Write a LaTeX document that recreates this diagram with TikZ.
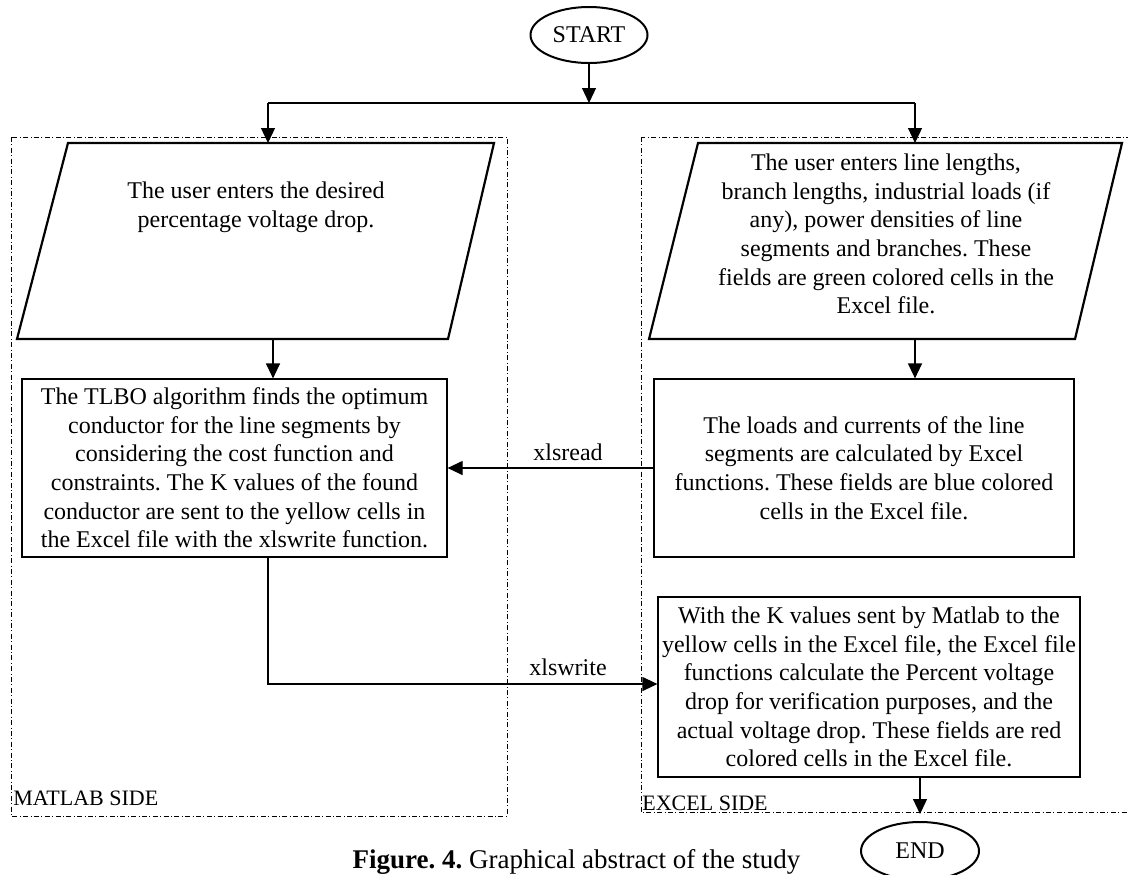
\documentclass[tikz,border=0pt]{standalone}
\usepackage{fontspec}
\setmainfont{Liberation Serif}
\usetikzlibrary{arrows.meta,shapes.geometric}
\frenchspacing
\begin{document}
\begin{tikzpicture}[x=0.5pt,y=-0.5pt,
  body/.style={font=\fontsize{12}{14.3}\selectfont, align=center, inner sep=0pt},
  procbox/.style={body, draw, line width=0.6pt},
  terminal/.style={ellipse, draw, line width=1pt, font=\fontsize{12}{14}\selectfont, inner sep=0pt},
  arr/.style={line width=0.6pt, -{Triangle[length=7.5pt,width=7pt]}},
  link/.style={line width=0.6pt},
  side/.style={line width=0.5pt, dash pattern=on 2.5pt off 1.2pt on 0.5pt off 1.2pt},
  iobox/.style={line width=1.1pt, line join=miter},
  sidelabel/.style={font=\fontsize{11}{13}\selectfont, inner sep=0pt, anchor=base west},
  flowlabel/.style={font=\fontsize{12}{14}\selectfont, inner sep=0pt}
]
\useasboundingbox (0,0) rectangle (1128,874);
\clip (0,0) rectangle (1128,874);

% swimlanes
\draw[side] (11,137) rectangle (507,816);
\draw[side] (641,137) rectangle (1140,812);
\node[sidelabel] (matlab) at (13,805) {MATLAB SIDE};
\node[sidelabel] (excel) at (642,810) {EXCEL SIDE};

% terminals
\node[terminal, minimum width=58.5pt, minimum height=28pt] (start) at (589,35) {START};
\node[terminal, minimum width=59pt, minimum height=29pt] (end) at (920,851) {END};

% input parallelograms
\draw[iobox] (68,143) -- (494,143) -- (448,339) -- (17,339) -- cycle;
\node[body] (userL) at (256,207) {The user enters the desired\\percentage voltage drop.};
\draw[iobox] (698,143) -- (1122,143) -- (1075,339) -- (649,339) -- cycle;
\node[body] (userR) at (886,234) {The user enters line lengths,\\branch lengths, industrial loads (if\\any), power densities of line\\segments and branches. These\\fields are green colored cells in the\\Excel file.};
\coordinate (inL) at (268,143);
\coordinate (inR) at (915,143);
\coordinate (outL) at (273,339);
\coordinate (outR) at (915,339);

% process boxes
\node[procbox, minimum width=212.5pt, minimum height=89pt] (tlbo) at (234.5,468)
  {The TLBO algorithm finds the optimum\\conductor for the line segments by\\considering the cost function and\\constraints. The K values of the found\\conductor are sent to the yellow cells in\\the Excel file with the xlswrite function.};
\node[procbox, minimum width=210pt, minimum height=89pt] (calc) at (864,468)
  {The loads and currents of the line\\segments are calculated by Excel\\functions. These fields are blue colored\\cells in the Excel file.};
\node[procbox, minimum width=211pt, minimum height=90pt] (verify) at (869,687)
  {With the K values sent by Matlab to the\\yellow cells in the Excel file, the Excel file\\functions calculate the Percent voltage\\drop for verification purposes, and the\\actual voltage drop. These fields are red\\colored cells in the Excel file.};

% connectors
\coordinate (fork) at (589,103);
\coordinate (forkL) at (268,103);
\coordinate (forkR) at (915,103);
\coordinate (bend) at (268,684);
\draw[arr] (start.south) -- (fork);
\draw[link] (forkL) -- (forkR);
\draw[arr] (forkL) -- (inL);
\draw[arr] (forkR) -- (inR);
\draw[arr] (outL) -- (outL |- tlbo.north);
\draw[arr] (outR) -- (outR |- calc.north);
\draw[arr] (calc.west) -- (tlbo.east);
\node[flowlabel] (readlbl) at (568,452) {xlsread};
\draw[arr] (tlbo.south -| bend) -- (bend) -- (bend -| verify.west);
\node[flowlabel] (writelbl) at (568,667) {xlswrite};
\draw[arr, shorten >=3.5pt] (verify.south -| end.north) -- (end.north);

% caption
\node[font=\fontsize{13.5}{16}\selectfont, anchor=base, inner sep=0pt] (caption) at (576.5,868)
  {\textbf{Figure. 4.} Graphical abstract of the study};
\end{tikzpicture}
\end{document}
